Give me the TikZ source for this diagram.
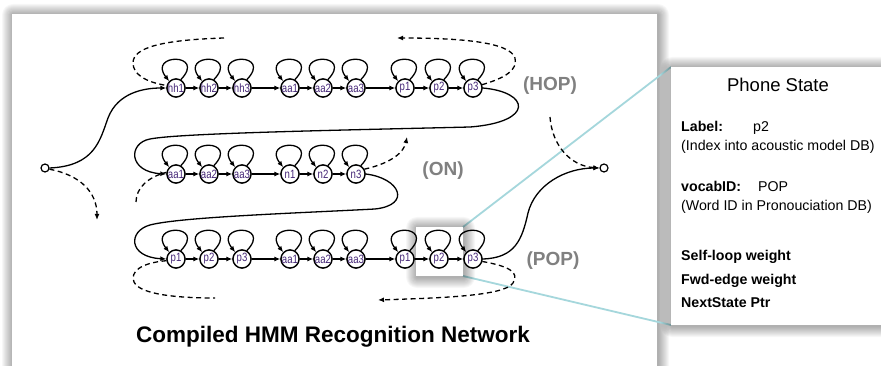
\documentclass[tikz,border=0pt]{standalone}
\usepackage{fontspec}
\setmainfont{Liberation Sans}
\usetikzlibrary{arrows.meta,calc}
\definecolor{nodetxt}{RGB}{70,40,120}
\definecolor{wordlbl}{RGB}{128,128,128}
\definecolor{callout}{RGB}{165,215,220}
\newcommand{\dropshade}[4]{%
  \foreach \k in {1,...,11}{%
    \fill[black,opacity=0.03,rounded corners=\k pt] (#1-\k+1,#2-\k+1) rectangle (#3+\k+1,#4+\k+1);
  }}
\newcommand{\stlabel}[1]{\scalebox{0.8}[1]{#1}}
\begin{document}
\begin{tikzpicture}[x=1pt,y=-1pt,
  st/.style={circle,draw,line width=1.3pt,fill=white,minimum size=18pt,inner sep=-4pt,
    font=\fontsize{12}{12}\selectfont,text=nodetxt},
  term/.style={circle,draw,line width=1.2pt,fill=white,minimum size=8pt,inner sep=0pt},
  arr/.style={line width=1.3pt,-{Latex[length=6pt,width=5pt]}},
  ln/.style={line width=1.3pt},
  dsh/.style={line width=1.3pt,dash pattern=on 5pt off 3.5pt},
  darr/.style={dsh,-{Latex[length=6pt,width=5pt]}},
  word/.style={font=\fontsize{19}{21}\selectfont\bfseries,text=wordlbl},
  title/.style={font=\fontsize{22.5}{25}\selectfont\bfseries},
  info/.style={font=\fontsize{14.2}{16}\selectfont,anchor=base west,inner sep=0pt},
  infob/.style={info,font=\fontsize{14.2}{16}\selectfont\bfseries},
  callline/.style={draw=callout,line width=1.8pt}]
\useasboundingbox (0,0) rectangle (881,366);
\fill[white] (0,0) rectangle (881,366);
% main panel
\dropshade{12}{14}{657}{380}
\fill[white] (12,14) rectangle (657,380);
% callout lines
\coordinate (hbtr) at (463,227);
\coordinate (hbbr) at (463,276);
\coordinate (pbtl) at (671,67);
\coordinate (pbbl) at (671,325);
\draw[callline] (hbtr) -- (pbtl);
\draw[callline] (hbbr) -- (pbbl);
% highlight box
\dropshade{416}{227}{463}{276}
\fill[white] (416,227) rectangle (463,276);
% states
\foreach \r/\y in {1/88,3/259}{
  \foreach \c/\x in {1/176,2/209,3/242,4/290,5/323,6/356,7/405,8/439,9/473}{
    \node[st] (r\r c\c) at (\x,\y) {};
  }}
\foreach \c/\x in {1/176,2/209,3/242,4/290,5/323,6/356}{
  \node[st] (r2c\c) at (\x,174) {};
}
\foreach \c/\t in {1/hh1,2/hh2,3/hh3,4/aa1,5/aa2,6/aa3,7/p1,8/p2,9/p3}{\node[st] at (r1c\c) {\stlabel{\t}};}
\foreach \c/\t in {1/aa1,2/aa2,3/aa3,4/n1,5/n2,6/n3}{\node[st] at (r2c\c) {\stlabel{\t}};}
\foreach \c/\t in {1/p1,2/p2,3/p3,4/aa1,5/aa2,6/aa3,7/p1,8/p2,9/p3}{\node[st] at (r3c\c) {\stlabel{\t}};}
% self loops
\foreach \n in {r1c1,r1c2,r1c3,r1c4,r1c5,r1c6,r1c7,r1c8,r1c9,
                r2c1,r2c2,r2c3,r2c4,r2c5,r2c6,
                r3c1,r3c2,r3c3,r3c4,r3c5,r3c6,r3c7,r3c8,r3c9}{
  \draw[arr] (\n.60) .. controls +(26,-27) and +(-22,-28) .. (\n.135);
}
% forward edges
\foreach \a/\b in {1/2,2/3,3/4,4/5,5/6,6/7,7/8,8/9}{
  \draw[arr] (r1c\a) -- (r1c\b);
  \draw[arr] (r3c\a) -- (r3c\b);
}
\foreach \a/\b in {1/2,2/3,3/4,4/5,5/6}{
  \draw[arr] (r2c\a) -- (r2c\b);
}
% terminals
\node[term] (start) at (45,168) {};
\node[term] (end) at (604,168) {};
% word-to-word solid links
\draw[arr] (start.east) .. controls (95,166) and (100,140) .. (108,118)
  .. controls (118,92) and (145,88) .. (r1c1.west);
\draw[arr] (r1c9.east) .. controls (530,92) and (535,122) .. (470,127)
  .. controls (350,130) and (180,133) .. (150,139)
  .. controls (128,143) and (128,172) .. (r2c1.west);
\draw[arr] (r2c6.east) .. controls (400,178) and (412,205) .. (375,209)
  .. controls (300,213) and (180,217) .. (150,225)
  .. controls (128,231) and (128,257) .. (r3c1.west);
\draw[arr] (r3c9.east) .. controls (515,258) and (522,240) .. (528,213)
  .. controls (535,185) and (565,168) .. (end.west);
% dashed links
\coordinate (d1) at (224,38);
\draw[dsh] (d1) .. controls (160,40) and (133,48) .. (133,63)
  .. controls (133,74) and (145,82) .. (r1c1.165);
\coordinate (d2) at (397,38);
\draw[darr] (r1c9.20) .. controls (505,78) and (518,70) .. (515,58)
  .. controls (510,42) and (460,38) .. (d2);
\coordinate (d3) at (136,202);
\draw[dsh] (d3) .. controls (136,188) and (148,177) .. (r2c1.170);
\coordinate (d4) at (407,137);
\draw[darr] (r2c6.30) .. controls (392,163) and (404,152) .. (d4);
\coordinate (d5) at (215,298);
\draw[dsh] (r3c1.190) .. controls (140,263) and (130,272) .. (134,282)
  .. controls (140,295) and (180,298) .. (d5);
\coordinate (d6) at (378,300);
\draw[darr] (r3c9.-15) .. controls (508,266) and (520,272) .. (513,283)
  .. controls (505,296) and (440,298) .. (d6);
\coordinate (d7) at (97,220);
\draw[darr] (start.-15) .. controls (80,175) and (97,192) .. (d7);
\coordinate (d8) at (550,117);
\draw[darr] (d8) .. controls (552,145) and (570,166) .. (end.west);
% word labels
\node[word] (lhop) at (550,86) {(HOP)};
\node[word] (lon) at (443,171) {(ON)};
\node[word] (lpop) at (553,261) {(POP)};
% title
\node[title] (ttl) at (333,337) {Compiled HMM Recognition Network};
% phone state box
\dropshade{671}{67}{895}{325}
\fill[white] (671,67) rectangle (895,325);
\node[anchor=base,inner sep=0pt,font=\fontsize{18.5}{20}\selectfont] (phs) at (778,92) {Phone State};
\node[infob] (lab) at (681,132) {Label:};
\node[info] (labv) at (753,132) {p2};
\node[info] (labd) at (681,151) {(Index into acoustic model DB)};
\node[infob] (voc) at (681,192) {vocabID:};
\node[info] (vocv) at (758,192) {POP};
\node[info] (vocd) at (681,211) {(Word ID in Pronouciation DB)};
\node[infob] (slw) at (681,261) {Self-loop weight};
\node[infob] (few) at (681,284) {Fwd-edge weight};
\node[infob] (nsp) at (681,307) {NextState Ptr};
\end{tikzpicture}
\end{document}
